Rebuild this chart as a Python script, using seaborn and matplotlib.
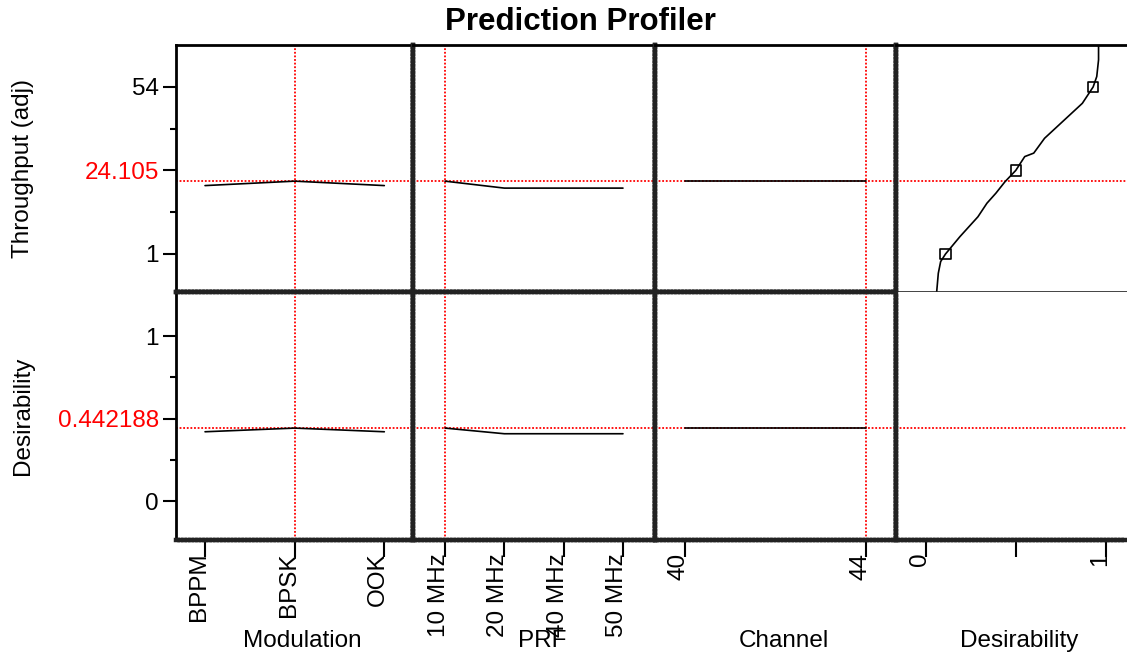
import numpy as np
import pandas as pd
import seaborn as sns
import matplotlib.pyplot as plt

# factor levels
modulation = ["BPPM", "BPSK", "OOK"]
prf = ["10 MHz", "20 MHz", "40 MHz", "50 MHz"]
channel = [40, 44]

# profile traces (throughput and desirability) for each factor
thru_mod = [22.7, 24.105, 22.7]
des_mod = [0.420, 0.442188, 0.420]
thru_prf = [24.105, 21.9, 21.9, 21.9]
des_prf = [0.442188, 0.408, 0.408, 0.408]
thru_chan = [24.105, 24.105]
des_chan = [0.442188, 0.442188]

# current settings
cur_thru = 24.105
cur_des = 0.442188
cur_mod = 1      # BPSK
cur_prf = 0      # 10 MHz
cur_chan = 44

# desirability function (desirability vs throughput)
dfun_d = [0.061, 0.070, 0.083, 0.11, 0.19, 0.29, 0.34, 0.39, 0.44, 0.50,
          0.55, 0.60, 0.66, 0.80, 0.87, 0.93, 0.95, 0.96, 0.96]
dfun_t = [-11.0, -5.1, -1.4, 1.0, 6.5, 12.8, 17.1, 20.3, 23.9, 27.5,
          31.9, 33.0, 37.7, 45.1, 48.8, 54.0, 57.3, 62.6, 67.3]
mark_d = [0.11, 0.50, 0.93]
mark_t = [1, 27.5, 54]

# axis ticks
thru_ticks = [1, 27.5, 54]
thru_labels = ["1", "24.105", "54"]
thru_minor = [14.25, 40.75]
des_ticks = [0, 0.5, 1]
des_labels = ["0", "0.442188", "1"]
des_minor = [0.25, 0.75]

sns.set_style('white')
plt.rcParams['font.family'] = ['Liberation Sans', 'DejaVu Sans']
plt.rcParams['text.color'] = 'black'
plt.rcParams['axes.labelcolor'] = 'black'
plt.rcParams['xtick.color'] = 'black'
plt.rcParams['ytick.color'] = 'black'
FS = 17.5

W, H = 1127, 656
fig = plt.figure(figsize=(W / 100, H / 100), dpi=100)


def box(x0, x1, y0, y1):
    return [x0 / W, 1 - y1 / H, (x1 - x0) / W, (y1 - y0) / H]


cols = [(176, 413), (413, 655), (655, 896), (896, 1127)]
rows = [(45, 292), (292, 540)]
xlims = [(-0.324, 2.32), (-0.54, 3.54), (39.34, 44.66), (-0.165, 1.118)]
ylims = [(-11.06, 67.3), (-0.236, 1.267)]

axes = [[fig.add_axes(box(c[0], c[1], r[0], r[1])) for c in cols] for r in rows]

red = dict(color='red', lw=1.3, ls=(0, (1, 1)), zorder=1)
blk = dict(color='black', lw=1.2)

for r in range(2):
    for c in range(4):
        ax = axes[r][c]
        ax.set_xlim(*xlims[c])
        ax.set_ylim(*ylims[r])
        ax.set_yticks([])
        ax.set_xticks([])
        for side, sp in ax.spines.items():
            sp.set_color('#222222')
            sp.set_linestyle((0, (0.4, 0.4)))
            sp.set_linewidth(3.2)
        if c == 0:
            ax.spines['left'].set_linestyle('-')
            ax.spines['left'].set_linewidth(2)
            ax.spines['left'].set_color('black')
        if r == 0:
            ax.spines['top'].set_linestyle('-')
            ax.spines['top'].set_linewidth(2)
            ax.spines['top'].set_color('black')
        if c == 3:
            ax.spines['right'].set_visible(False)
        ax.axhline([cur_thru, cur_des][r], **red)

# top-right / bottom-right shared edge is thin
axes[0][3].spines['bottom'].set_linewidth(1.2)
axes[0][3].spines['bottom'].set_linestyle((0, (1, 1)))
axes[1][3].spines['top'].set_visible(False)

# vertical current-setting lines
for r in range(2):
    axes[r][0].axvline(cur_mod, **red)
    axes[r][1].axvline(cur_prf, **red)
    axes[r][2].axvline(cur_chan, **red)

# traces
sns.lineplot(x=range(3), y=thru_mod, ax=axes[0][0], **blk)
sns.lineplot(x=range(3), y=des_mod, ax=axes[1][0], **blk)
sns.lineplot(x=range(4), y=thru_prf, ax=axes[0][1], **blk)
sns.lineplot(x=range(4), y=des_prf, ax=axes[1][1], **blk)
sns.lineplot(x=channel, y=thru_chan, ax=axes[0][2], **blk)
sns.lineplot(x=channel, y=des_chan, ax=axes[1][2], **blk)

# desirability function
sns.lineplot(x=dfun_d, y=dfun_t, sort=False, estimator=None, ax=axes[0][3], **blk)
sns.scatterplot(x=mark_d, y=mark_t, marker='s', s=55, facecolor='none',
                edgecolor='black', linewidth=1.2, ax=axes[0][3], zorder=3)

# y axes
a = axes[0][0]
a.set_yticks(thru_ticks, thru_labels, fontsize=FS)
a.set_yticks(thru_minor, minor=True)
a.get_yticklabels()[1].set_color('red')

a = axes[1][0]
a.set_yticks(des_ticks, des_labels, fontsize=FS)
a.set_yticks(des_minor, minor=True)
a.get_yticklabels()[1].set_color('red')

for a in (axes[0][0], axes[1][0]):
    a.tick_params(axis='y', which='major', left=True, length=9.4, width=1.5, pad=3)
    a.tick_params(axis='y', which='minor', left=True, length=4.3, width=1.5)

ylab = ["Throughput (adj)", "Desirability"]
for r in range(2):
    yc = (rows[r][0] + rows[r][1]) / 2
    fig.text(23 / W, 1 - yc / H, ylab[r], rotation=90, ha='center', va='center',
             fontsize=FS)

# x axes
rot = dict(rotation=90, ha='right', va='baseline', rotation_mode='anchor', fontsize=FS)
axes[1][0].set_xticks(range(3), modulation, **rot)
axes[1][1].set_xticks(range(4), prf, **rot)
axes[1][2].set_xticks(channel, [str(v) for v in channel], **rot)
axes[1][3].set_xticks([0, 0.5, 1], ["0", "", "1"], **rot)

xlab = ["Modulation", "PRF", "Channel", "Desirability"]
for c in range(4):
    a = axes[1][c]
    a.tick_params(axis='x', bottom=True, length=12.2, width=1.5, pad=-3)
    xc = (cols[c][0] + cols[c][1]) / 2 + 8
    fig.text(xc / W, 1 - 641 / H, xlab[c], ha='center', va='center', fontsize=FS)

fig.text(580 / W, 1 - 22 / H, "Prediction Profiler", ha='center', va='center',
         fontsize=22.5, fontweight='bold')

fig.savefig("out.png", dpi=100)
